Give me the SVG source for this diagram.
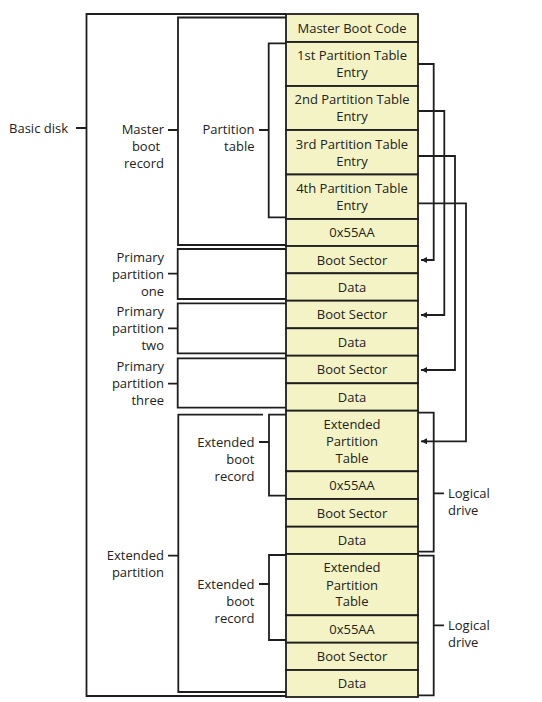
<svg xmlns="http://www.w3.org/2000/svg" width="542" height="702" viewBox="0 0 542 702">
<style>
.cell{fill:#f3f3c6;stroke:#1e1e1e;stroke-width:1.8}
.ln{fill:none;stroke:#1e1e1e;stroke-width:1.8}
.t{font-family:"Open Sans","Noto Sans",sans-serif;font-size:13px;fill:#222}
.c{text-anchor:middle}
.r{text-anchor:end}
.l{text-anchor:start}
</style>
<defs>
<marker id="ah" markerUnits="userSpaceOnUse" markerWidth="7" markerHeight="7" refX="6" refY="3" orient="auto">
<path d="M0,0 L6,3 L0,6 z" fill="#1e1e1e"/>
</marker>
</defs>
<rect width="542" height="702" fill="#fff"/>
<g id="connectors">
<path class="ln" d="M286,14 H86.5 V696 H286 M76,128 H86.5"/>
<path class="ln" d="M286,17.5 H178 V245 H286 M168,130 H178"/>
<path class="ln" d="M286,43.3 H268.7 V217.3 H286 M259,130 H268.7"/>
<path class="ln" d="M286,249 H177.7 V299 H286 M168,273.7 H177.7"/>
<path class="ln" d="M286,303.3 H177.7 V353.3 H286 M168,328.3 H177.7"/>
<path class="ln" d="M286,358.3 H177.7 V407.7 H286 M168,383.7 H177.7"/>
<path class="ln" d="M263,414.7 H178.3 V692 H286 M168,555.7 H178.3"/>
<path class="ln" d="M286,414.7 H269 V495.7 H286 M259,442 H269"/>
<path class="ln" d="M286,555 H269 V640 H286 M259,584 H269"/>
<path class="ln" d="M418,412.7 H433.7 V551.7 H418 M433.7,493.3 H444"/>
<path class="ln" d="M418,555.7 H433.7 V695.3 H418 M433.7,625.3 H444"/>
<path class="ln" d="M418,64 H433.7 V260 H421" marker-end="url(#ah)"/>
<path class="ln" d="M418,111 H444.3 V315 H421" marker-end="url(#ah)"/>
<path class="ln" d="M418,156 H455 V370 H421" marker-end="url(#ah)"/>
<path class="ln" d="M418,203.3 H466 V441.3 H421" marker-end="url(#ah)"/>
</g>
<g id="mbc"><rect class="cell" x="286" y="14" width="132" height="28"/><text class="t c" x="352" y="32.5">Master Boot Code</text></g>
<g id="pte1"><rect class="cell" x="286" y="42" width="132" height="44"/><text class="t c" x="352" y="60">1st Partition Table</text><text class="t c" x="352" y="77">Entry</text></g>
<g id="pte2"><rect class="cell" x="286" y="86" width="132" height="44"/><text class="t c" x="352" y="104">2nd Partition Table</text><text class="t c" x="352" y="121">Entry</text></g>
<g id="pte3"><rect class="cell" x="286" y="130" width="132" height="44.5"/><text class="t c" x="352" y="148.5">3rd Partition Table</text><text class="t c" x="352" y="165.5">Entry</text></g>
<g id="pte4"><rect class="cell" x="286" y="174.5" width="132" height="44.5"/><text class="t c" x="352" y="193">4th Partition Table</text><text class="t c" x="352" y="210">Entry</text></g>
<g id="sig1"><rect class="cell" x="286" y="219" width="132" height="27"/><text class="t c" x="352" y="237">0x55AA</text></g>
<g id="bs1"><rect class="cell" x="286" y="246" width="132" height="27.3"/><text class="t c" x="352" y="264.5">Boot Sector</text></g>
<g id="d1"><rect class="cell" x="286" y="273.3" width="132" height="27.4"/><text class="t c" x="352" y="291.5">Data</text></g>
<g id="bs2"><rect class="cell" x="286" y="300.7" width="132" height="27.6"/><text class="t c" x="352" y="319">Boot Sector</text></g>
<g id="d2"><rect class="cell" x="286" y="328.3" width="132" height="27.4"/><text class="t c" x="352" y="346.5">Data</text></g>
<g id="bs3"><rect class="cell" x="286" y="355.7" width="132" height="27.6"/><text class="t c" x="352" y="374">Boot Sector</text></g>
<g id="d3"><rect class="cell" x="286" y="383.3" width="132" height="27.4"/><text class="t c" x="352" y="401.5">Data</text></g>
<g id="ept1"><rect class="cell" x="286" y="410.7" width="132" height="60.6"/><text class="t c" x="352" y="428.8">Extended</text><text class="t c" x="352" y="446">Partition</text><text class="t c" x="352" y="462.8">Table</text></g>
<g id="sig2"><rect class="cell" x="286" y="471.3" width="132" height="27.7"/><text class="t c" x="352" y="489.5">0x55AA</text></g>
<g id="bs4"><rect class="cell" x="286" y="499" width="132" height="27.7"/><text class="t c" x="352" y="517.5">Boot Sector</text></g>
<g id="d4"><rect class="cell" x="286" y="526.7" width="132" height="27.3"/><text class="t c" x="352" y="544.5">Data</text></g>
<g id="ept2"><rect class="cell" x="286" y="554" width="132" height="61.3"/><text class="t c" x="352" y="572.2">Extended</text><text class="t c" x="352" y="589.5">Partition</text><text class="t c" x="352" y="606.2">Table</text></g>
<g id="sig3"><rect class="cell" x="286" y="615.3" width="132" height="27.4"/><text class="t c" x="352" y="633.5">0x55AA</text></g>
<g id="bs5"><rect class="cell" x="286" y="642.7" width="132" height="27.3"/><text class="t c" x="352" y="660.5">Boot Sector</text></g>
<g id="d5"><rect class="cell" x="286" y="670" width="132" height="27"/><text class="t c" x="352" y="688">Data</text></g>
<g id="lbl-basic"><text class="t r" x="68" y="132.5">Basic disk</text></g>
<g id="lbl-mbr"><text class="t r" x="164" y="133.5">Master</text><text class="t c" x="146" y="150.5">boot</text><text class="t c" x="144" y="167.5">record</text></g>
<g id="lbl-pt"><text class="t r" x="254.5" y="133.5">Partition</text><text class="t r" x="254.5" y="150.5">table</text></g>
<g id="lbl-pp1"><text class="t r" x="164" y="261.5">Primary</text><text class="t r" x="164" y="278.5">partition</text><text class="t r" x="164" y="295.5">one</text></g>
<g id="lbl-pp2"><text class="t r" x="164" y="316">Primary</text><text class="t r" x="164" y="333">partition</text><text class="t r" x="164" y="350">two</text></g>
<g id="lbl-pp3"><text class="t r" x="164" y="371">Primary</text><text class="t r" x="164" y="388">partition</text><text class="t r" x="164" y="405">three</text></g>
<g id="lbl-ext"><text class="t r" x="164" y="560">Extended</text><text class="t r" x="164" y="577">partition</text></g>
<g id="lbl-ebr1"><text class="t r" x="254.5" y="446.5">Extended</text><text class="t r" x="254.5" y="463.5">boot</text><text class="t r" x="254.5" y="480.5">record</text></g>
<g id="lbl-ebr2"><text class="t r" x="254.5" y="588.5">Extended</text><text class="t r" x="254.5" y="605.5">boot</text><text class="t r" x="254.5" y="622.5">record</text></g>
<g id="lbl-ld1"><text class="t l" x="448" y="498">Logical</text><text class="t l" x="448" y="515">drive</text></g>
<g id="lbl-ld2"><text class="t l" x="448" y="629.5">Logical</text><text class="t l" x="448" y="646.5">drive</text></g>
</svg>
